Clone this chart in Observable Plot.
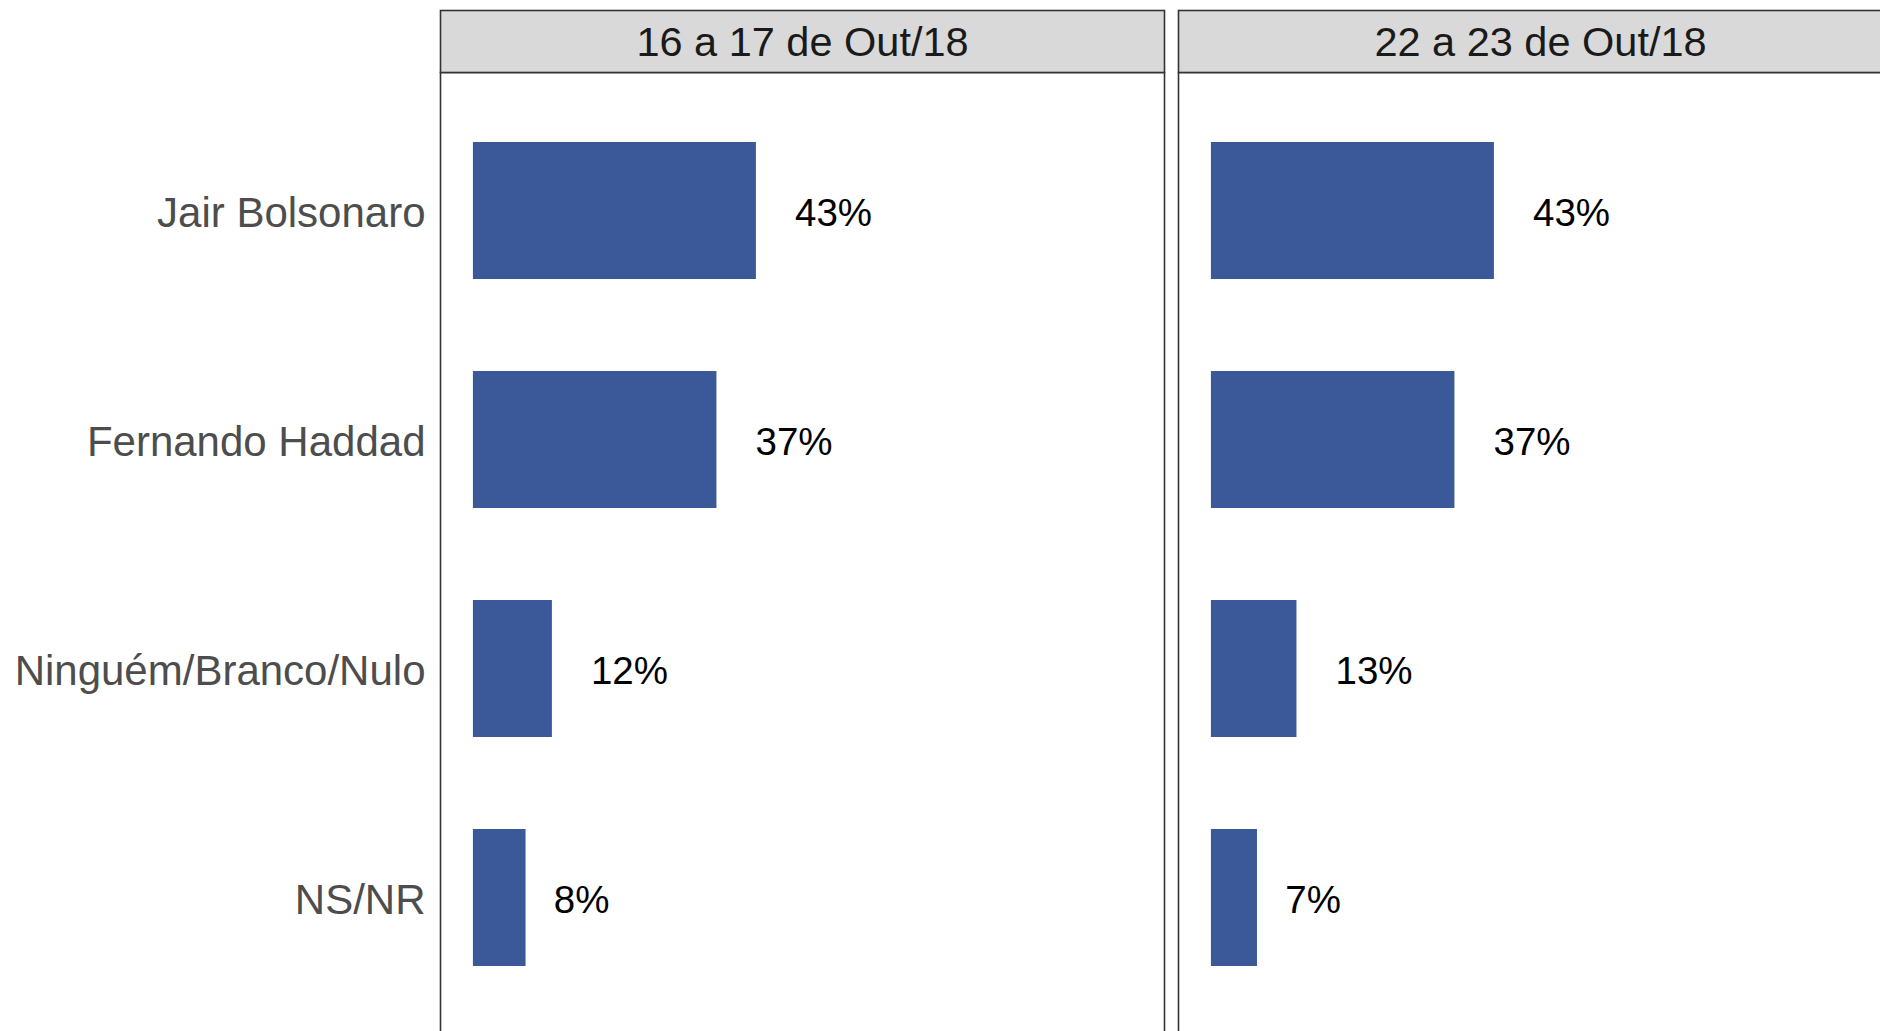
<!DOCTYPE html>
<html>
<head>
<meta charset="utf-8">
<script src="https://cdn.jsdelivr.net/npm/d3@7"></script>
<script src="https://cdn.jsdelivr.net/npm/@observablehq/plot@0.6"></script>
<style>
  html, body { margin: 0; padding: 0; background: #fff; overflow: hidden; }
  #chart svg { display: block; max-width: none; }
</style>
</head>
<body>
<div id="chart"></div>
<script>
const periods = ["16 a 17 de Out/18", "22 a 23 de Out/18"];
const candidates = ["Jair Bolsonaro", "Fernando Haddad", "Ninguém/Branco/Nulo", "NS/NR"];
const valuesOct16 = [43, 37, 12, 8];
const valuesOct22 = [43, 37, 13, 7];

const rows = [];
candidates.forEach((c, i) => {
  rows.push({period: periods[0], candidate: c, value: valuesOct16[i]});
  rows.push({period: periods[1], candidate: c, value: valuesOct22[i]});
});

const FONT = "'Liberation Sans', Arial, Helvetica, sans-serif";
const labelSize = 38.5;
const label = d => d.value + "%";

// ggplot-style hjust = -0.5: left edge offset by half the label width
const ctx = document.createElement("canvas").getContext("2d");
ctx.font = `${labelSize}px ${FONT}`;
const groups = d3.group(rows, d => Math.round(ctx.measureText(label(d)).width * 10) / 10);
const labelMarks = Array.from(groups, ([w, data]) =>
  Plot.text(data, {
    fx: "period", y: "candidate", x: "value", text: label,
    textAnchor: "start", dx: w / 2, dy: 3, fontSize: labelSize, fill: "#000"
  })
);

const chart = Plot.plot({
  width: 1880,
  height: 1031,
  marginTop: 72,
  marginBottom: -5,
  marginLeft: 440,
  marginRight: -22,
  style: {fontFamily: FONT, background: "#fff"},
  fx: {domain: periods, axis: null, paddingInner: 14 / 738, paddingOuter: 0},
  x: {domain: [-5, 105], axis: null},
  y: {domain: candidates, paddingInner: 0.4, paddingOuter: 0.3, axis: null},
  marks: [
    Plot.frame({fill: "#fff", stroke: "#333", strokeWidth: 1.6}),
    Plot.frame({fill: "#d9d9d9", stroke: "#333", strokeWidth: 1.6, insetTop: -62, insetBottom: 964}),
    Plot.text(periods, {fx: d => d, text: d => d, frameAnchor: "top", lineAnchor: "middle", dy: -30, fontSize: 41.5, fill: "#1a1a1a"}),
    Plot.barX(rows, {fx: "period", y: "candidate", x: "value", fill: "#3b5998"}),
    ...labelMarks,
    Plot.axisY({tickSize: 0, tickPadding: 15, dy: 3, fontSize: 42, fill: "#4d4d4d", label: null})
  ]
});
document.getElementById("chart").appendChild(chart);
</script>
</body>
</html>
